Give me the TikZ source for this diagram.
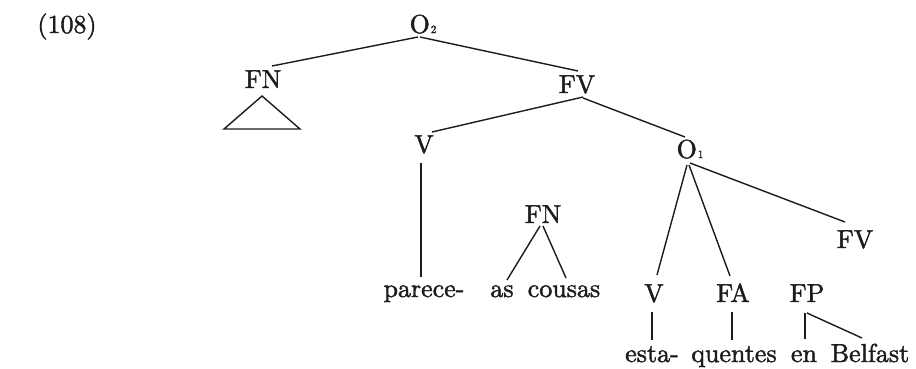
\documentclass[tikz,border=0pt]{standalone}
\usepackage{fontspec}
\setmainfont{lmroman10-regular}[Extension=.otf, FakeBold=1.6]
\usetikzlibrary{calc}
\definecolor{ink}{HTML}{1C1C1C}
\begin{document}
\begin{tikzpicture}[x=1pt,y=-1pt,
  lab/.style={anchor=base, inner sep=0pt, text=ink, font=\fontsize{26}{30}\selectfont},
  edge/.style={draw=ink, line width=1.4pt}]
\useasboundingbox[fill=white] (0,0) rectangle (916,368);
% labels
\node[lab] (n108) at (67,33) {(108)};
\node[lab] (O2) at (423,33) {O{\fontsize{11}{11}\selectfont\kern1pt 2}};
\node[lab] (FN1) at (263,88) {FN};
\node[lab] (FV1) at (577,93) {FV};
\node[lab] (V1) at (424,153) {V};
\node[lab] (O1) at (690,158) {O{\fontsize{11}{11}\selectfont\kern1pt 1}};
\node[lab] (FN2) at (543,223) {FN};
\node[lab] (FV2) at (855,248) {FV};
\node[lab] (V2) at (654,302) {V};
\node[lab] (FA) at (733,302) {FA};
\node[lab] (FP) at (807,302) {FP};
\node[lab] (parece) at (424,297) {parece-};
\node[lab] (as) at (502,297) {as};
\node[lab] (cousas) at (564,297) {cousas};
\node[lab] (esta) at (652,362) {esta-};
\node[lab] (quentes) at (734,362) {quentes};
\node[lab] (en) at (804,362) {en};
\node[lab] (Belfast) at (870,362) {Belfast};
% connectors
\draw[edge] ($(O2.base)+(-5,4)$) -- ($(FN1.base)+(9,-22)$);
\draw[edge] ($(O2.base)+(-3,4)$) -- ($(FV1.base)+(1,-22)$);
\draw[edge] ($(FV1.base)+(6,4)$) -- ($(V1.base)+(8,-21)$);
\draw[edge] ($(FV1.base)+(6,5)$) -- ($(O1.base)+(-5,-21)$);
\coordinate (triA) at ($(FN1.base)+(-1,8)$);
\coordinate (triL) at ($(FN1.base)+(-39,41)$);
\coordinate (triR) at ($(FN1.base)+(37,41)$);
\draw[edge, line join=miter] (triA) -- (triL) -- (triR) -- cycle;
\draw[edge] ($(V1.base)+(-3,10)$) -- ($(parece.base)+(-3,-20)$);
\draw[edge] ($(O1.base)+(-3,7)$) -- ($(V2.base)+(3,-27)$);
\draw[edge] ($(O1.base)+(-1,7)$) -- ($(FA.base)+(-3,-26)$);
\draw[edge] ($(O1.base)+(0,5)$) -- ($(FV2.base)+(-10,-26)$);
\draw[edge] ($(FN2.base)+(-3,3)$) -- ($(as.base)+(5,-17)$);
\draw[edge] ($(FN2.base)+(0,3)$) -- ($(cousas.base)+(2,-19)$);
\draw[edge] ($(V2.base)+(-2,10)$) -- ($(esta.base)+(0,-22)$);
\draw[edge] ($(FA.base)+(-1,10)$) -- ($(quentes.base)+(-2,-22)$);
\draw[edge] ($(FP.base)+(-2,11)$) -- ($(en.base)+(1,-23)$);
\draw[edge] ($(FP.base)+(0,11)$) -- ($(Belfast.base)+(-8,-24)$);
\end{tikzpicture}
\end{document}
